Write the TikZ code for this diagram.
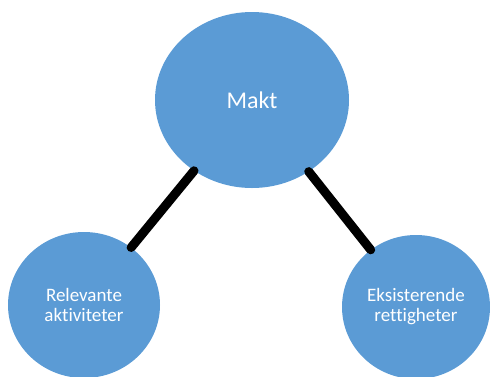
\documentclass[tikz,border=0pt]{standalone}
\usepackage{fontspec}
\setmainfont[Ligatures=CommonOff]{Carlito}
\usetikzlibrary{shapes.geometric}
\definecolor{circblue}{RGB}{91,155,213}

\begin{document}
\begin{tikzpicture}[
    x=1pt, y=1pt,
    every node/.style={font=\fontsize{19}{20}\selectfont},
    circ/.style={ellipse, fill=circblue, text=white, inner sep=0pt, align=center},
    link/.style={line width=9pt, line cap=round, black}
]
\clip (0,0) rectangle (490,-376);

% Main circle
\node[circ, minimum width=194pt, minimum height=176pt, font=\fontsize{24}{26}\selectfont] (makt) at (252,-100) {Makt};

% Lower circles
\node[circ, minimum width=152pt, minimum height=146pt] (rel) at (84,-305) {Relevante\\aktiviteter};
\node[circ, minimum width=148pt, minimum height=144pt] (eks) at (416,-307) {Eksisterende\\rettigheter};

% Links
\draw[link] (makt) -- (rel);
\draw[link] (makt) -- (eks);

\end{tikzpicture}
\end{document}
